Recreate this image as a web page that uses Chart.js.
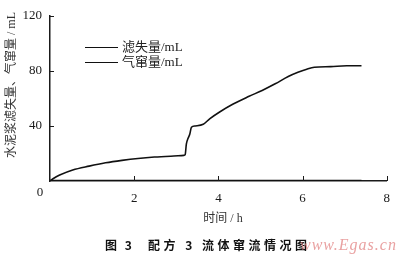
<!DOCTYPE html>
<html>
<head>
<meta charset="utf-8">
<script src="https://cdn.jsdelivr.net/npm/chart.js@4/dist/chart.umd.min.js"></script>
<style>
  html, body { margin: 0; padding: 0; background: #fff; }
  #wrap { width: 400px; height: 257px; position: relative; }
</style>
</head>
<body>
<div id="wrap"><canvas id="c" width="400" height="257"></canvas></div>
<script>
// ---- data ----
const filtrateTime = [0, 0.1, 0.23, 0.54, 0.93, 1.32, 1.71, 2.09, 2.48, 2.87, 3.18, 3.21, 3.24, 3.28, 3.32, 3.36, 3.45, 3.64, 3.80, 4.03, 4.34, 4.73, 5.04, 5.35, 5.66, 5.89, 6.10, 6.28, 6.67, 7.05, 7.40];
const filtrateVol  = [0, 2.2, 4.3, 8.0, 10.8, 13.2, 15.0, 16.4, 17.4, 18.0, 18.6, 19.0, 27.0, 31.0, 34.0, 39.0, 40.0, 41.2, 45.3, 50.1, 55.7, 61.5, 65.8, 70.6, 75.9, 79.0, 81.2, 82.6, 83.1, 83.7, 83.7];
const gasTime = [0, 7.4];
const gasVol  = [0, 0];
const seriesNames = ['滤失量/mL', '气窜量/mL'];
const xTicks = [0, 2, 4, 6, 8];
const yTicks = [0, 40, 80, 120];
const xTitle = '时间 / h';
const yTitle = '水泥浆滤失量、气窜量 / mL';
const captionHead = '图 3';
const captionBody = '配方 3 流体窜流情况图';
const watermark = 'www.Egas.cn';

const toPoints = (xs, ys) => xs.map((x, i) => ({ x: x, y: ys[i] }));

const SERIF = '"Liberation Serif", "Noto Sans CJK SC", serif';
const INK = '#1a1a1a';

const decor = {
  id: 'decor',
  afterDraw(chart) {
    const ctx = chart.ctx;
    const xs = chart.scales.x, ys = chart.scales.y;
    const ca = chart.chartArea;
    ctx.save();
    // inward tick marks
    ctx.strokeStyle = INK;
    ctx.lineWidth = 1;
    xTicks.forEach(v => {
      if (v === 0) return;
      const px = Math.round(xs.getPixelForValue(v)) + 0.5;
      ctx.beginPath(); ctx.moveTo(px, ca.bottom); ctx.lineTo(px, ca.bottom - 5); ctx.stroke();
    });
    yTicks.forEach(v => {
      if (v === 0) return;
      const py = Math.round(ys.getPixelForValue(v)) + 0.5;
      ctx.beginPath(); ctx.moveTo(ca.left, py); ctx.lineTo(ca.left + 4, py); ctx.stroke();
    });
    // origin label
    ctx.fillStyle = INK;
    ctx.font = '13px ' + SERIF;
    ctx.textAlign = 'center';
    ctx.textBaseline = 'middle';
    ctx.fillText('0', xs.getPixelForValue(0) - 10, ys.getPixelForValue(0) + 12);
    // y title (rotated)
    ctx.save();
    ctx.translate(12, 85);
    ctx.rotate(-Math.PI / 2);
    ctx.font = '12px ' + SERIF;
    ctx.fillStyle = '#333';
    ctx.fillText(yTitle, 0, 0);
    ctx.restore();
    // x title
    ctx.font = '12px ' + SERIF;
    ctx.fillStyle = '#333';
    ctx.fillText(xTitle, 223, 219);
    // caption
    ctx.font = 'bold 12px "Noto Sans CJK SC", sans-serif';
    ctx.fillStyle = '#111';
    ctx.textAlign = 'left';
    ctx.letterSpacing = '2.5px';
    ctx.fillText(captionHead, 105, 245);
    ctx.letterSpacing = '3.5px';
    ctx.fillText(captionBody, 148, 245);
    ctx.letterSpacing = '0px';
    // watermark
    ctx.font = 'italic 16px ' + SERIF;
    ctx.fillStyle = 'rgba(225,130,130,0.75)';
    ctx.letterSpacing = '1px';
    ctx.fillText(watermark, 300, 246);
    ctx.letterSpacing = '0px';
    // legend
    const legendY = [47, 62];
    chart.data.datasets.forEach((ds, i) => {
      const y = legendY[i] + 0.5;
      ctx.strokeStyle = ds.borderColor;
      ctx.lineWidth = 1;
      ctx.beginPath(); ctx.moveTo(85, y); ctx.lineTo(118, y); ctx.stroke();
      ctx.fillStyle = '#222';
      ctx.font = '13px ' + SERIF;
      ctx.textAlign = 'left';
      ctx.textBaseline = 'middle';
      ctx.fillText(ds.label, 122, y);
    });
    ctx.restore();
  }
};

new Chart(document.getElementById('c'), {
  type: 'line',
  data: {
    datasets: [
      {
        label: seriesNames[0],
        data: toPoints(filtrateTime, filtrateVol),
        borderColor: '#111',
        borderWidth: 1.6,
        pointRadius: 0,
        cubicInterpolationMode: 'monotone',
        fill: false
      },
      {
        label: seriesNames[1],
        data: toPoints(gasTime, gasVol),
        borderColor: '#111',
        borderWidth: 2.5,
        pointRadius: 0,
        fill: false
      }
    ]
  },
  options: {
    responsive: false,
    animation: false,
    devicePixelRatio: 1,
    layout: { padding: { left: 0, right: 7, top: 14, bottom: 0 } },
    plugins: { legend: { display: false }, tooltip: { enabled: false }, title: { display: false } },
    scales: {
      x: {
        type: 'linear',
        min: 0, max: 8,
        afterFit(s) { s.height = 76; },
        afterBuildTicks(s) { s.ticks = xTicks.map(v => ({ value: v })); },
        grid: { display: false, drawTicks: false },
        border: { display: true, color: INK, width: 1.5 },
        ticks: {
          padding: 10,
          color: INK,
          font: { family: SERIF, size: 13 },
          callback: v => (v === 0 ? '' : String(v))
        }
      },
      y: {
        min: 0, max: 120,
        afterFit(s) { s.width = 50; },
        afterBuildTicks(s) { s.ticks = yTicks.map(v => ({ value: v })); },
        grid: { display: false, drawTicks: false },
        border: { display: true, color: INK, width: 1.5 },
        ticks: {
          padding: 8,
          color: INK,
          font: { family: SERIF, size: 13 },
          callback: v => (v === 0 ? '' : String(v))
        }
      }
    }
  },
  plugins: [decor]
});
</script>
</body>
</html>
